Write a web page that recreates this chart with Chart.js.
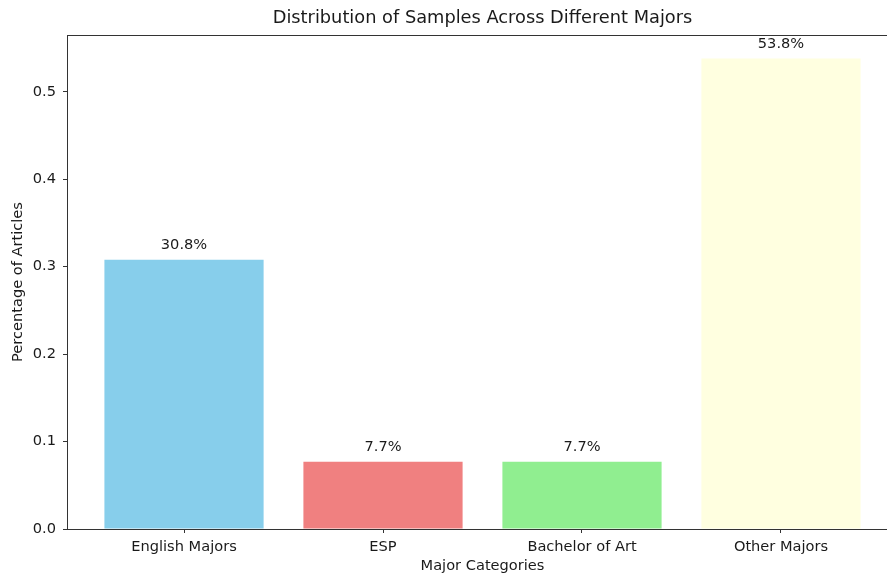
<!DOCTYPE html>
<html>
<head>
<meta charset="utf-8">
<script src="https://cdn.jsdelivr.net/npm/chart.js@4.4.0/dist/chart.umd.min.js"></script>
<style>
html,body{margin:0;padding:0;background:#fff;overflow:hidden;}
#wrap{width:910px;height:575px;position:relative;}
</style>
</head>
<body>
<div id="wrap"><canvas id="c" width="910" height="575"></canvas></div>
<script>
const categories = ["English Majors", "ESP", "Bachelor of Art", "Other Majors"];
const values = [0.308, 0.077, 0.077, 0.538];
const barColors = ["#87CEEB", "#F08080", "#90EE90", "#FFFFE0"];
const yTicks = [0, 0.1, 0.2, 0.3, 0.4, 0.5];
const chartTitle = "Distribution of Samples Across Different Majors";

const FONT = "'DejaVu Sans', sans-serif";
const TXT = "#1a1a1a";
const FS = 14.6;

const framePlugin = {
  id: 'frame',
  afterDatasetsDraw(chart) {
    const {ctx, chartArea: a} = chart;
    ctx.save();
    ctx.strokeStyle = "#333";
    ctx.lineWidth = 1;
    ctx.beginPath();
    ctx.moveTo(a.left, a.top + 0.5);
    ctx.lineTo(a.right + 20, a.top + 0.5);
    ctx.stroke();
    // value labels
    ctx.fillStyle = TXT;
    ctx.font = FS + "px " + FONT;
    ctx.textAlign = "center";
    ctx.textBaseline = "bottom";
    const meta = chart.getDatasetMeta(0);
    meta.data.forEach((bar, i) => {
      ctx.fillText((values[i] * 100).toFixed(1) + "%", bar.x, bar.y - 7);
    });
    // title
    ctx.font = "17.8px " + FONT;
    ctx.textBaseline = "middle";
    ctx.fillText(chartTitle, (a.left + a.right) / 2, 18);
    ctx.restore();
  }
};

new Chart(document.getElementById('c'), {
  type: 'bar',
  data: {
    datasets: [{
      data: values.map((v, i) => ({x: i, y: v})),
      backgroundColor: barColors,
      borderWidth: 0,
      barPercentage: 0.8,
      categoryPercentage: 1.0
    }]
  },
  options: {
    responsive: false,
    animation: false,
    layout: {padding: {top: 35, right: 12, bottom: 0, left: 0}},
    plugins: {legend: {display: false}, tooltip: {enabled: false}},
    scales: {
      x: {
        type: 'linear',
        offset: false,
        min: -0.588,
        max: 3.588,
        afterBuildTicks: s => { s.ticks = categories.map((_, i) => ({value: i})); },
        afterFit: s => { s.height = 46; },
        grid: {display: true, offset: false, drawOnChartArea: false, tickLength: 4, color: "#333"},
        border: {display: true, color: "#333", width: 1},
        ticks: {
          color: TXT, font: {family: FONT, size: FS}, padding: 5,
          maxRotation: 0, autoSkip: false,
          callback: v => categories[v] ?? ""
        },
        title: {display: true, text: "Major Categories", color: TXT,
          font: {family: FONT, size: FS}, padding: {top: 0, bottom: 0}}
      },
      y: {
        min: 0,
        max: 0.565,
        afterBuildTicks: s => { s.ticks = yTicks.map(v => ({value: v})); },
        afterFit: s => { s.width = 67; },
        grid: {display: true, drawOnChartArea: false, tickLength: 4, color: "#333"},
        border: {display: true, color: "#333", width: 1},
        ticks: {color: TXT, font: {family: FONT, size: FS}, padding: 7,
          callback: v => Number(v).toFixed(1)},
        title: {display: true, text: "Percentage of Articles", color: TXT,
          font: {family: FONT, size: FS}, padding: {top: 9, bottom: 0}}
      }
    }
  },
  plugins: [framePlugin]
});
</script>
</body>
</html>
